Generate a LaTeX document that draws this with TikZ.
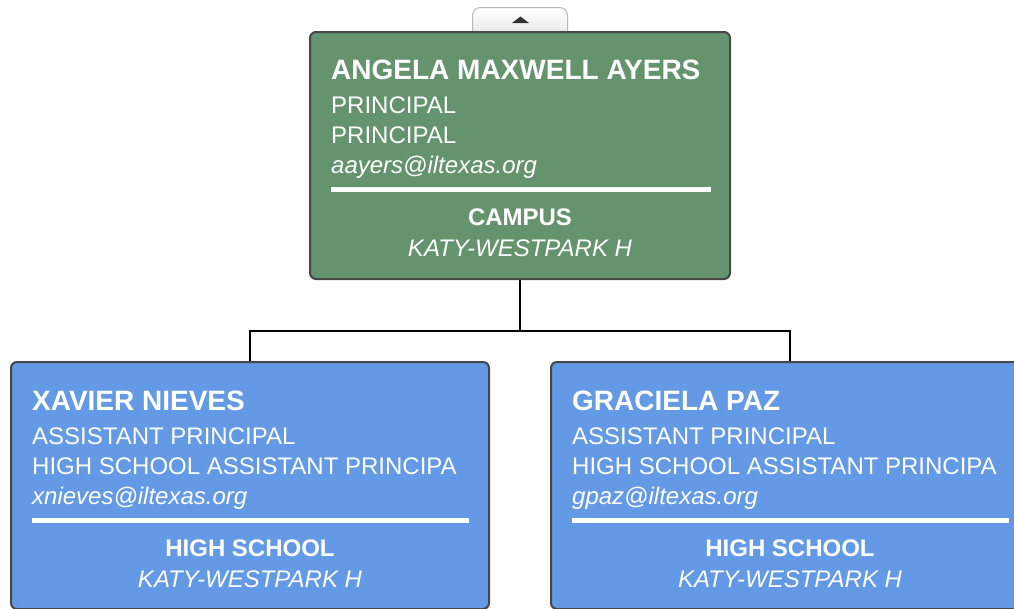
\documentclass[tikz,border=0pt]{standalone}
\usepackage{fontspec}
\setmainfont{Liberation Sans}
\definecolor{campusgreen}{HTML}{64936E}
\definecolor{staffblue}{HTML}{6399E5}
\definecolor{cardframe}{HTML}{474747}
\begin{document}
\begin{tikzpicture}[
        x=1pt, y=-1pt,
        every node/.style={font=\fontsize{24}{28}\selectfont, text=white, inner sep=0pt},
        card/.style={rectangle, draw=cardframe, line width=2pt, rounded corners=6pt,
            minimum height=247pt, anchor=north west},
        personname/.style={anchor=base west, font=\fontsize{28}{30}\selectfont\bfseries},
        infoline/.style={anchor=base west},
        mailline/.style={anchor=base west, font=\fontsize{24}{28}\selectfont\itshape},
        unithead/.style={anchor=base, font=\fontsize{24}{28}\selectfont\bfseries},
        unitname/.style={anchor=base, font=\fontsize{24}{28}\selectfont\itshape},
        divider/.style={draw=white, line width=5pt},
        link/.style={draw=black, line width=2pt},
        toggle/.style={rectangle, draw=gray!55, line width=1pt, rounded corners=8pt,
            top color=white, bottom color=gray!22, minimum width=95pt, minimum height=34pt, anchor=north}
    ]
    \useasboundingbox (0,0) rectangle (1014,608);
    \clip (0,0) rectangle (1014,608);

    % collapse tab above the top card
    \node [toggle] (toggle) at (520,7) {};
    \fill [gray!40!black] (512,23) -- (529,23) -- (520.5,16.5) -- cycle;

    % cards
    \node [card, fill=campusgreen, minimum width=420pt] (ayers) at (309,31) {};
    \node [card, fill=staffblue, minimum width=478pt] (nieves) at (10,361) {};
    \node [card, fill=staffblue, minimum width=478pt] (paz) at (550,361) {};

    % connectors
    \coordinate (split) at (520,331);
    \draw [link] (ayers.south) -- (split);
    \draw [link] (split) -| (nieves.north);
    \draw [link] (split) -| (paz.north);

    % top card text
    \node [personname] (ayersname) at (331,79.5) {ANGELA MAXWELL AYERS};
    \node [infoline] (ayersrole) at (331,113.3) {PRINCIPAL};
    \node [infoline] (ayerstitle) at (331,143.3) {PRINCIPAL};
    \node [mailline] (ayersmail) at (331,173.3) {aayers@iltexas.org};
    \draw [divider] (331,189) -- (711,189);
    \node [unithead] (ayersunit) at (520,225.5) {CAMPUS};
    \node [unitname] (ayerscampus) at (520,256) {KATY-WESTPARK H};

    % left card text
    \node [personname] (nievesname) at (32,410.5) {XAVIER NIEVES};
    \node [infoline] (nievesrole) at (32,444.3) {ASSISTANT PRINCIPAL};
    \node [infoline] (nievestitle) at (32,474.3) {HIGH SCHOOL ASSISTANT PRINCIPA};
    \node [mailline] (nievesmail) at (32,504.3) {xnieves@iltexas.org};
    \draw [divider] (32,520) -- (469,520);
    \node [unithead] (nievesunit) at (250,556.5) {HIGH SCHOOL};
    \node [unitname] (nievescampus) at (250,587) {KATY-WESTPARK H};

    % right card text
    \node [personname] (pazname) at (572,410.5) {GRACIELA PAZ};
    \node [infoline] (pazrole) at (572,444.3) {ASSISTANT PRINCIPAL};
    \node [infoline] (paztitle) at (572,474.3) {HIGH SCHOOL ASSISTANT PRINCIPA};
    \node [mailline] (pazmail) at (572,504.3) {gpaz@iltexas.org};
    \draw [divider] (572,520) -- (1009,520);
    \node [unithead] (pazunit) at (790,556.5) {HIGH SCHOOL};
    \node [unitname] (pazcampus) at (790,587) {KATY-WESTPARK H};
\end{tikzpicture}
\end{document}
